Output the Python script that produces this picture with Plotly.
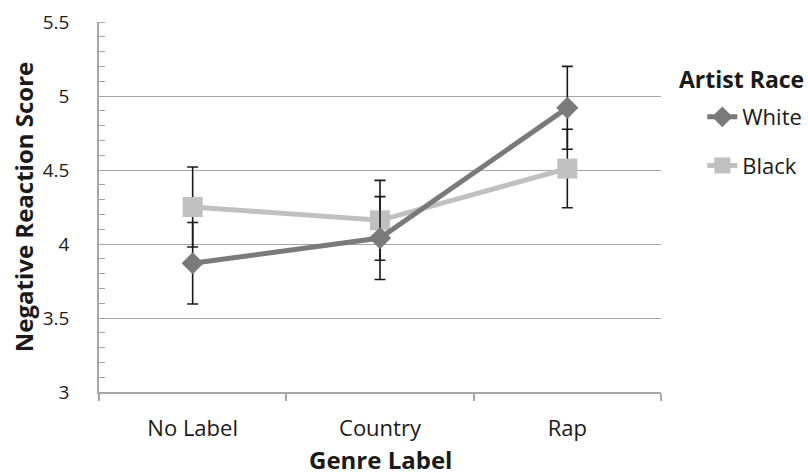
import plotly.graph_objects as go

categories = ["No Label", "Country", "Rap"]
white_values = [3.87, 4.04, 4.92]
white_err = [0.275, 0.28, 0.28]
black_values = [4.25, 4.16, 4.51]
black_err = [0.27, 0.27, 0.265]
y_ticks = [3, 3.5, 4, 4.5, 5, 5.5]
y_ticklabels = ["3", "3.5", "4", "4.5", "5", "5.5"]

FONT = "Open Sans"
TXT = "#1a1a1a"
GRID = "#a6a6a6"

fig = go.Figure()

fig.add_trace(go.Scatter(
    x=categories, y=black_values, name="Black", mode="lines+markers",
    line=dict(color="#c0c0c0", width=5),
    marker=dict(symbol="square", size=20, color="#c0c0c0"),
    error_y=dict(type="data", array=black_err, color="#1a1a1a", thickness=1.6, width=5.5),
    legendrank=2, legendgroup="b",
))
fig.add_trace(go.Scatter(
    x=categories, y=white_values, name="White", mode="lines+markers",
    line=dict(color="#7a7a7a", width=5),
    marker=dict(symbol="diamond", size=17, color="#7a7a7a"),
    error_y=dict(type="data", array=white_err, color="#1a1a1a", thickness=1.6, width=5.5),
    legendrank=1, legendgroup="w",
))

fig.update_layout(
    width=808, height=475,
    margin=dict(l=99, r=147, t=22, b=83, autoexpand=False),
    paper_bgcolor="white", plot_bgcolor="white",
    font=dict(family=FONT, size=19, color=TXT),
    showlegend=True,
    legend=dict(
        x=1.0735, y=0.80, xanchor="left", yanchor="top",
        font=dict(family=FONT, size=22, color=TXT),
        traceorder="grouped", tracegroupgap=17,
        bgcolor="rgba(0,0,0,0)", borderwidth=0,
    ),
    annotations=[
        dict(
            text="<b>Artist Race</b>", x=1.0285, y=0.846, xref="paper", yref="paper",
            xanchor="left", yanchor="middle", showarrow=False,
            font=dict(family=FONT, size=23, color=TXT),
        ),
        dict(
            text="<b>Genre Label</b>", x=0.5, y=-0.182, xref="paper", yref="paper",
            xanchor="center", yanchor="middle", showarrow=False,
            font=dict(family=FONT, size=24, color=TXT),
        ),
    ],
)

fig.update_xaxes(
    type="category", range=[-0.5, 2.5], automargin=False,
    showline=True, linecolor=GRID, linewidth=1.5,
    ticks="outside", tickson="boundaries", ticklen=7, tickcolor=GRID, tickwidth=1.5,
    showgrid=False, zeroline=False,
    tickfont=dict(family=FONT, size=22, color=TXT),
    ticklabelstandoff=16,
)
fig.update_yaxes(
    range=[3, 5.5], tickvals=y_ticks, ticktext=y_ticklabels, automargin=False,
    showline=True, linecolor=GRID, linewidth=1.5,
    showgrid=True, gridcolor=GRID, gridwidth=1.2,
    ticks="", zeroline=False,
    minor=dict(dtick=0.1, ticks="inside", ticklen=6, tickcolor=GRID, tickwidth=1, showgrid=False),
    tickfont=dict(family=FONT, size=19, color=TXT),
    ticklabelstandoff=24,
    title=dict(text="<b>Negative Reaction Score</b>", font=dict(family=FONT, size=24, color=TXT), standoff=2),
)

fig.write_html("out.html", config={"displayModeBar": False},
               post_script="document.body.style.margin='0';")
